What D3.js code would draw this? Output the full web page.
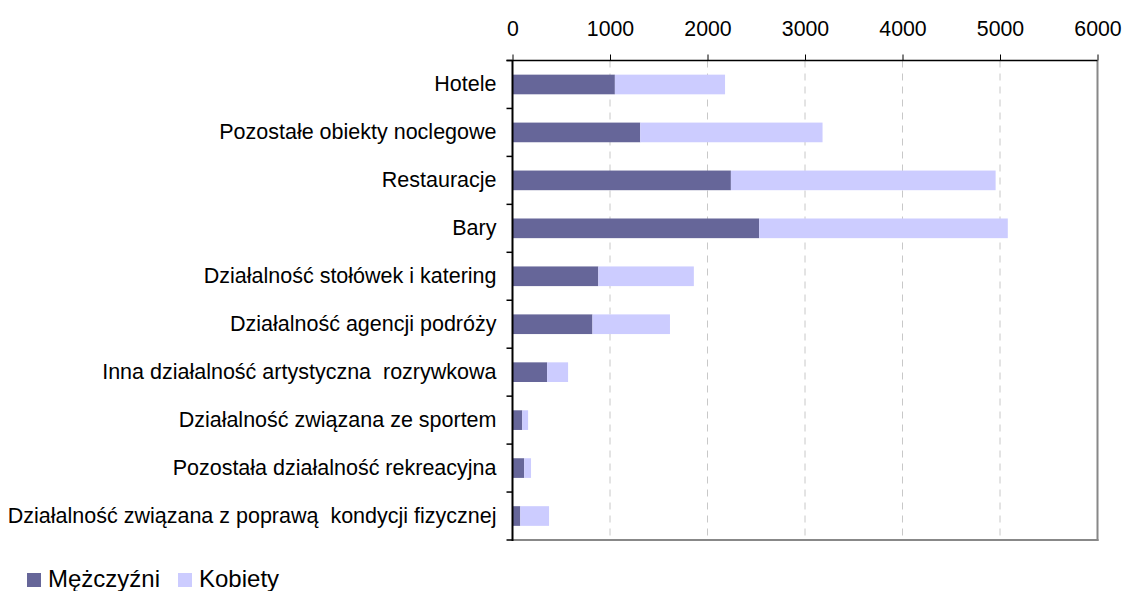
<!DOCTYPE html>
<html><head><meta charset="utf-8">
<script src="https://cdn.jsdelivr.net/npm/d3@7"></script>
<style>body{margin:0;background:#fff;} text{font-family:"Liberation Sans",Arial,sans-serif;white-space:pre;}</style>
</head><body>
<svg id="c" width="1129" height="591"></svg>
<script>
const categories = ["Hotele","Pozostałe obiekty noclegowe","Restauracje","Bary","Działalność stołówek i katering","Działalność agencji podróży","Inna działalność artystyczna  rozrywkowa","Działalność związana ze sportem","Pozostała działalność rekreacyjna","Działalność związana z poprawą  kondycji fizycznej"];
const men = [1050,1310,2240,2530,880,820,355,100,120,80];
const women = [1130,1870,2715,2550,980,795,215,60,70,295];
const seriesNames = ["Mężczyźni","Kobiety"];
const colors = ["#666699","#CCCCFF"];
const xTicks = [0,1000,2000,3000,4000,5000,6000];

const svg = d3.select("#c");
const L=512.5, R=1097.5, T=60.5, B=540;
const FONT = "Liberation Sans, Arial, sans-serif";
const x = d3.scaleLinear().domain([0,6000]).range([L,R]);
const y = d3.scaleBand().domain(categories).range([T,B]).paddingInner(0.59).paddingOuter(0.295);
const yb = d3.scaleBand().domain(categories).range([T,B]);

// grid
svg.append("g").selectAll("line").data(xTicks.slice(1,-1)).join("line")
  .attr("x1",d=>x(d)).attr("x2",d=>x(d)).attr("y1",T).attr("y2",B)
  .attr("stroke","#c8c8c8").attr("stroke-width",1).attr("stroke-dasharray","7,6");

// bars
const data = categories.map((c,i)=>({c, v:[men[i],women[i]]}));
const stack = d3.stack().keys([0,1]).value((d,k)=>d.v[k]);
const layers = stack(data);
svg.append("g").selectAll("g").data(layers).join("g").attr("fill",(d,i)=>colors[i])
  .selectAll("rect").data(d=>d).join("rect")
  .attr("x",d=>x(d[0])).attr("width",d=>x(d[1])-x(d[0]))
  .attr("y",d=>y(d.data.c)).attr("height",y.bandwidth());

// border right and bottom
svg.append("line").attr("x1",R).attr("x2",R).attr("y1",T).attr("y2",B+1).attr("stroke","#888").attr("stroke-width",2);
svg.append("line").attr("x1",L).attr("x2",R+1).attr("y1",B).attr("y2",B).attr("stroke","#888").attr("stroke-width",2);

// top axis
const xa = svg.append("g").attr("transform",`translate(0,${T})`)
  .call(d3.axisTop(x).tickValues(xTicks).tickSize(6).tickPadding(19).tickFormat(d3.format("d")));
xa.attr("font-family",FONT).attr("font-size",21.3);
xa.select(".domain").attr("stroke","#000").attr("stroke-width",1.5).attr("d",`M${L-6},0H${R}`);
xa.selectAll(".tick line").attr("stroke","#000");
xa.selectAll("text").attr("fill","#000");

// left axis
const ya = svg.append("g").attr("transform",`translate(${L},0)`)
  .call(d3.axisLeft(yb).tickSize(0).tickPadding(16));
ya.attr("font-family",FONT).attr("font-size",21.5);
ya.select(".domain").attr("stroke","#000").attr("stroke-width",2).attr("d",`M0,${T}V${B+1}`);
ya.selectAll("text").attr("fill","#000");
// left tick marks at band boundaries
const bounds = categories.map(c=>yb(c)).concat([B]);
svg.append("g").selectAll("line").data(bounds).join("line")
  .attr("x1",L-6).attr("x2",L).attr("y1",d=>d).attr("y2",d=>d).attr("stroke","#000").attr("stroke-width",1.5);

// legend
const lg = svg.append("g");
const lx=[27,178];
seriesNames.forEach((n,i)=>{
  lg.append("rect").attr("x",lx[i]).attr("y",573).attr("width",14).attr("height",14).attr("fill",colors[i]);
  lg.append("text").attr("x",lx[i]+21).attr("y",587).attr("font-size",24).attr("fill","#000").text(n);
});
</script>
</body></html>
